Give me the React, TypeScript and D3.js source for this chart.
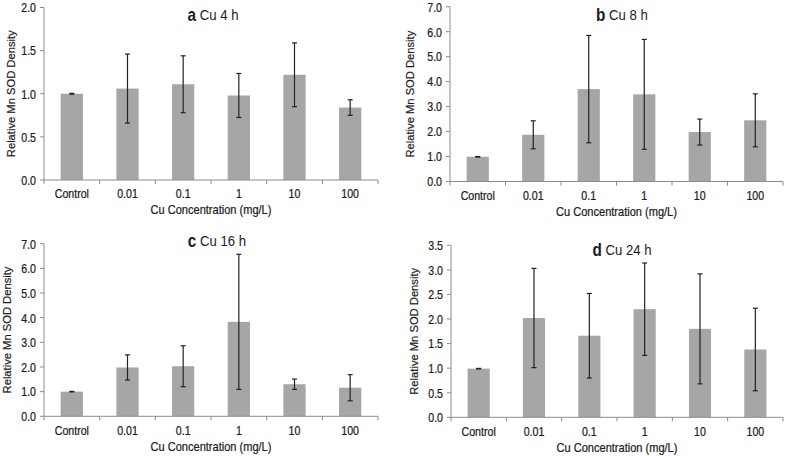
import React from "react";
import * as d3 from "d3";

// categories shared by all four panels
const categories = ["Control", "0.01", "0.1", "1", "10", "100"];

// relative Mn SOD density (mean) and error (+/-) per time point
const mean4h = [1.0, 1.06, 1.11, 0.98, 1.22, 0.84];
const err4h = [0.005, 0.4, 0.33, 0.255, 0.37, 0.09];
const mean8h = [0.99, 1.87, 3.7, 3.49, 1.98, 2.45];
const err8h = [0.01, 0.56, 2.15, 2.2, 0.52, 1.06];
const mean16h = [1.0, 1.98, 2.03, 3.83, 1.3, 1.16];
const err16h = [0.01, 0.51, 0.83, 2.74, 0.21, 0.53];
const mean24h = [0.99, 2.02, 1.66, 2.2, 1.8, 1.38];
const err24h = [0.005, 1.01, 0.86, 0.94, 1.12, 0.84];

const yTicks4h = [0, 0.5, 1.0, 1.5, 2.0];
const yTicks8h = [0, 1, 2, 3, 4, 5, 6, 7];
const yTicks16h = [0, 1, 2, 3, 4, 5, 6, 7];
const yTicks24h = [0, 0.5, 1.0, 1.5, 2.0, 2.5, 3.0, 3.5];

const FONT = "'Liberation Sans', Arial, sans-serif";
const BAR = "#a6a6a6";
const AXIS = "#8c8c8c";
const INK = "#1c1c1c";
const SX = 0.85; // the original text is a bit condensed

// horizontally condensed text
const SText = ({ x, y, anchor = "middle", size, children, weight = "normal" }) => (
  <g transform={`translate(${x},${y}) scale(${SX},1)`}>
    <text
      x={0}
      y={0}
      textAnchor={anchor}
      dominantBaseline="central"
      fontSize={size}
      fontWeight={weight}
      fontFamily={FONT}
      fill={INK}
      stroke={INK}
      strokeWidth={0.25}
    >
      {children}
    </text>
  </g>
);

const Panel = ({ letter, hours, means, errs, ticks, box }) => {
  const { x0, x1, top, bottom, titleX, titleY, labelX } = box;
  const yMax = ticks[ticks.length - 1];

  const xScale = d3.scaleBand().domain(categories).range([x0, x1]).padding(0);
  const yScale = d3.scaleLinear().domain([0, yMax]).range([bottom, top]);
  const bw = xScale.bandwidth() * 0.4;
  const cap = 2.5;

  return (
    <g>
      {/* bars */}
      {categories.map((c, i) => {
        const cx = xScale(c) + xScale.bandwidth() / 2;
        return (
          <rect
            key={c}
            x={cx - bw / 2}
            y={yScale(means[i])}
            width={bw}
            height={yScale(0) - yScale(means[i])}
            fill={BAR}
          />
        );
      })}

      {/* axes */}
      <line x1={x0} x2={x0} y1={top} y2={bottom} stroke={AXIS} strokeWidth={1} />
      <line x1={x0} x2={x1} y1={bottom} y2={bottom} stroke={AXIS} strokeWidth={1} />
      {ticks.map((t) => (
        <g key={t}>
          <line x1={x0 - 4} x2={x0} y1={yScale(t)} y2={yScale(t)} stroke={AXIS} />
          <SText x={x0 - 8} y={yScale(t)} anchor="end" size={12.5}>
            {d3.format(".1f")(t)}
          </SText>
        </g>
      ))}
      {[...categories, null].map((c, i) => {
        const xx = c === null ? x1 : xScale(c);
        return <line key={i} x1={xx} x2={xx} y1={bottom} y2={bottom + 4} stroke={AXIS} />;
      })}

      {/* error bars */}
      {categories.map((c, i) => {
        const cx = xScale(c) + xScale.bandwidth() / 2;
        const hi = yScale(means[i] + errs[i]);
        const lo = yScale(means[i] - errs[i]);
        return (
          <g key={c} stroke="#222" strokeWidth={1.2}>
            <line x1={cx} x2={cx} y1={hi} y2={lo} />
            <line x1={cx - cap} x2={cx + cap} y1={hi} y2={hi} />
            <line x1={cx - cap} x2={cx + cap} y1={lo} y2={lo} />
          </g>
        );
      })}

      {/* category labels */}
      {categories.map((c) => (
        <SText key={c} x={xScale(c) + xScale.bandwidth() / 2} y={bottom + 13.5} size={12.5}>
          {c}
        </SText>
      ))}
      <SText x={(x0 + x1) / 2} y={bottom + 30} size={13}>
        Cu Concentration (mg/L)
      </SText>

      {/* y axis title */}
      <text
        transform={`translate(${labelX},${(top + bottom) / 2}) rotate(-90)`}
        textAnchor="middle"
        dominantBaseline="central"
        fontSize={11.2}
        fontFamily={FONT}
        fill={INK}
        stroke={INK}
        strokeWidth={0.2}
      >
        Relative Mn SOD Density
      </text>

      {/* panel title */}
      <g transform={`translate(${titleX},${titleY}) scale(${SX},1)`}>
        <text textAnchor="middle" dominantBaseline="central" fontFamily={FONT} fill={INK}>
          <tspan fontWeight="bold" fontSize={18}>{letter}</tspan>
          <tspan fontSize={15.5}>{` Cu ${hours} h`}</tspan>
        </text>
      </g>
    </g>
  );
};

export default function App() {
  return (
    <svg
      width={786}
      height={456}
      style={{ position: "absolute", left: 0, top: 0, background: "white" }}
    >
      <rect width={786} height={456} fill="white" />
      <Panel
        letter="a"
        hours={4}
        means={mean4h}
        errs={err4h}
        ticks={yTicks4h}
        box={{ x0: 44, x1: 378, top: 7.5, bottom: 180, titleX: 213, titleY: 15, labelX: 11 }}
      />
      <Panel
        letter="b"
        hours={8}
        means={mean8h}
        errs={err8h}
        ticks={yTicks8h}
        box={{ x0: 450, x1: 783, top: 6.7, bottom: 181.5, titleX: 622, titleY: 15, labelX: 410 }}
      />
      <Panel
        letter="c"
        hours={16}
        means={mean16h}
        errs={err16h}
        ticks={yTicks16h}
        box={{ x0: 44, x1: 378, top: 243.7, bottom: 416.3, titleX: 217, titleY: 241, labelX: 7 }}
      />
      <Panel
        letter="d"
        hours={24}
        means={mean24h}
        errs={err24h}
        ticks={yTicks24h}
        box={{ x0: 451, x1: 783, top: 245.3, bottom: 417.3, titleX: 622, titleY: 250, labelX: 414 }}
      />
    </svg>
  );
}
